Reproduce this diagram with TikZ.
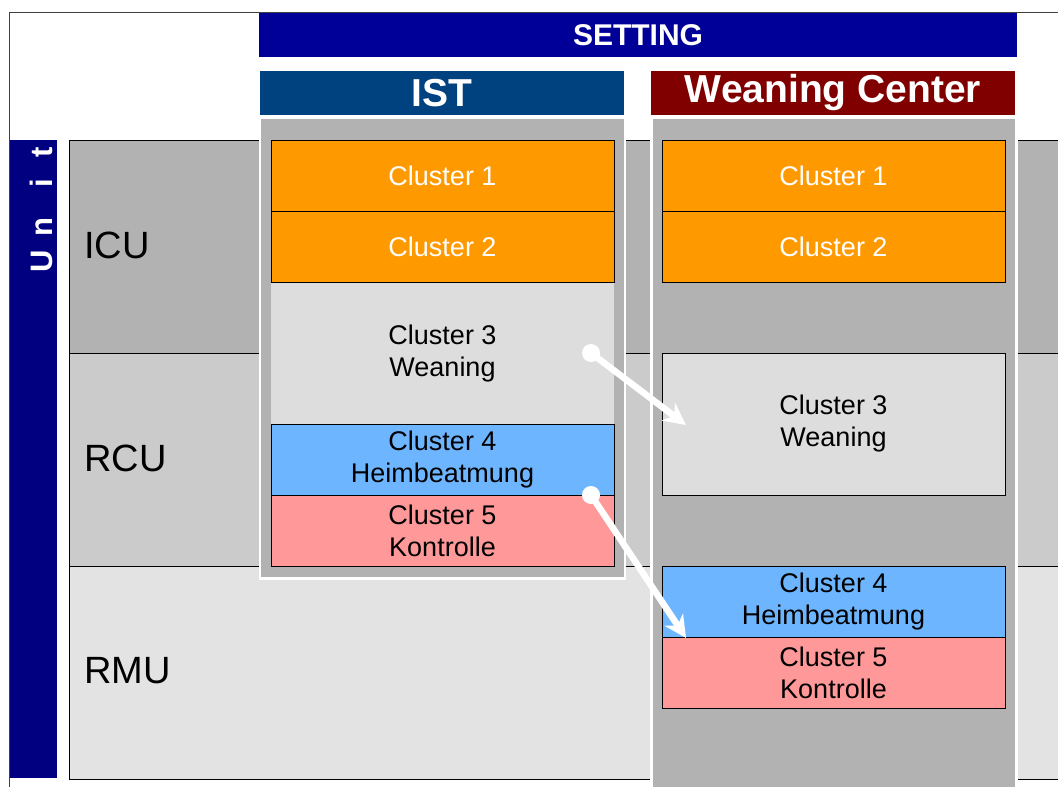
\documentclass[tikz,border=0pt]{standalone}
\usepackage{fontspec}
\setmainfont{Liberation Sans}
\usetikzlibrary{arrows.meta}

\definecolor{settingblue}{HTML}{000099}
\definecolor{istblue}{HTML}{00417F}
\definecolor{wcred}{HTML}{800000}
\definecolor{unitnavy}{HTML}{000080}
\definecolor{colgray}{HTML}{B2B2B2}
\definecolor{icugray}{HTML}{B2B2B2}
\definecolor{rcugray}{HTML}{CBCBCB}
\definecolor{rmugray}{HTML}{E3E3E3}
\definecolor{clorange}{HTML}{FF9900}
\definecolor{cllight}{HTML}{DDDDDD}
\definecolor{clblue}{HTML}{6DB6FF}
\definecolor{clpink}{HTML}{FF9999}
\definecolor{framegray}{HTML}{404040}

\newcommand\clfont{\fontsize{27}{32}\selectfont}
\newcommand\rowfont{\fontsize{38}{44}\selectfont}
\newcommand\headfont{\fontsize{39}{44}\selectfont\bfseries}
\newcommand\setfont{\fontsize{30}{34}\selectfont\bfseries}
\newcommand\unitfont{\fontsize{31}{36}\selectfont\bfseries}

\tikzset{
  band/.style={draw=black, line width=1pt, inner sep=0pt, outer sep=0pt,
    anchor=north west, minimum width=1010pt, minimum height=213pt},
  rowlabel/.style={anchor=west, inner sep=0pt, font=\rowfont, text=black},
  column/.style={draw=white, line width=2.5pt, fill=colgray, inner sep=0pt,
    outer sep=0pt, anchor=north west},
  header/.style={inner sep=0pt, outer sep=0pt, anchor=north west,
    minimum height=44pt, text=white},
  clbox/.style={draw=black, line width=1pt, inner sep=0pt, outer sep=0pt,
    anchor=north west, minimum width=343pt, align=center, font=\clfont},
  single/.style={clbox, minimum height=71pt},
  double/.style={clbox, minimum height=142pt},
  dot/.style={circle, fill=white, inner sep=0pt, minimum size=18pt},
  move/.style={draw=white, line width=6.5pt,
    -{Stealth[length=22pt, width=22pt, inset=7pt]}},
  unitletter/.style={rotate=90, anchor=base, text=white, font=\unitfont, inner sep=0pt},
}

\begin{document}
\begin{tikzpicture}[x=1pt, y=-1pt]
\useasboundingbox (0,0) rectangle (1058,787);
\clip (0,0) rectangle (1058,787);
\fill[white] (0,0) rectangle (1058,787);

% unit rows
\node[band, fill=icugray] (icuband) at (69,140) {};
\node[band, fill=rcugray] (rcuband) at (69,353) {};
\node[band, fill=rmugray] (rmuband) at (69,566) {};
\node[rowlabel] (icu) at (84,245) {ICU};
\node[rowlabel] (rcu) at (84,458) {RCU};
\node[rowlabel] (rmu) at (84,671) {RMU};

% unit bar on the left, letters spaced out and reading upwards
\fill[unitnavy] (10,140) rectangle (57,778);
\node[unitletter] (uU) at (52,261) {U};
\node[unitletter] (un) at (52,227) {n};
\node[unitletter] (ui) at (52,183) {i};
\node[unitletter] (ut) at (52,152) {t};

% setting columns
\node[column, minimum width=365pt, minimum height=461pt] (istcol) at (260,117.5) {};
\node[column, minimum width=365pt, minimum height=700pt] (wccol) at (651.5,117.5) {};

% headers
\node[header, fill=settingblue, minimum width=758pt, font=\setfont] (setting) at (259,13) {SETTING};
\node[header, fill=istblue, minimum width=364pt, font=\headfont] (ist) at (260,71) {IST};
\node[header, fill=wcred, minimum width=364pt, font=\headfont] (wc) at (651,71) {Weaning Center};

% clusters in the IST
\node[single, fill=clorange, text=white] (ic1) at (271,140) {Cluster 1};
\node[single, fill=clorange, text=white] (ic2) at (271,211) {Cluster 2};
\node[double, fill=cllight, draw=none] (ic3) at (271,282.5) {Cluster 3\\Weaning};
\node[single, fill=clblue] (ic4) at (271,424) {Cluster 4\\Heimbeatmung};
\node[single, fill=clpink] (ic5) at (271,495) {Cluster 5\\Kontrolle};

% clusters in the weaning center
\node[single, fill=clorange, text=white] (wc1) at (662,140) {Cluster 1};
\node[single, fill=clorange, text=white] (wc2) at (662,211) {Cluster 2};
\node[double, fill=cllight] (wc3) at (662,353) {Cluster 3\\Weaning};
\node[single, fill=clblue] (wc4) at (662,566) {Cluster 4\\Heimbeatmung};
\node[single, fill=clpink] (wc5) at (662,637) {Cluster 5\\Kontrolle};

% transfers from the IST to the weaning center
\node[dot] (from3) at (591,353) {};
\node[dot] (from4) at (591,495) {};
\coordinate (to3) at (686,425);
\coordinate (to4) at (686,638);
\draw[move] (from3.center) -- (to3);
\draw[move] (from4.center) -- (to4);

% outer frame
\draw[framegray, line width=1.5pt] (9.5,800) -- (9.5,12.25) -- (1070,12.25);
\end{tikzpicture}
\end{document}
